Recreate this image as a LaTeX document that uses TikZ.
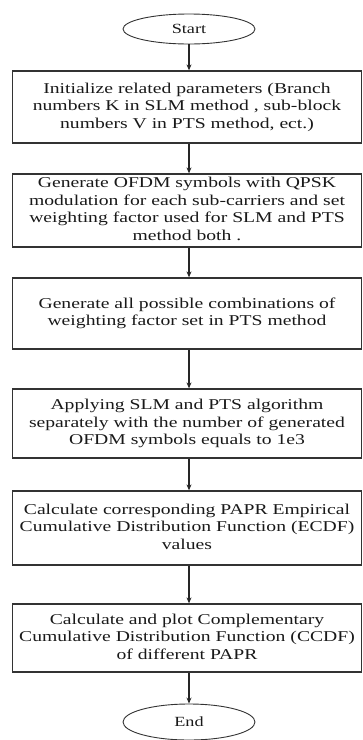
\documentclass[tikz,border=0pt]{standalone}
\usepackage{fontspec}
\usepackage{graphicx}
\setmainfont{Liberation Serif}
\usetikzlibrary{arrows.meta,shapes.geometric}
\newcommand{\widetext}[1]{\scalebox{1.31}[1]{\begin{tabular}{@{}c@{}}#1\end{tabular}}}
\begin{document}
\begin{tikzpicture}[x=1pt,y=-1pt,
  box/.style={draw=black!80, line width=1.3pt, rectangle, minimum width=349pt, inner sep=0pt, align=center, font=\fontsize{15}{17.5}\selectfont, text=black!90},
  term/.style={draw=black!80, line width=0.9pt, ellipse, minimum width=132pt, minimum height=30pt, inner sep=0pt, font=\fontsize{14}{16}\selectfont, text=black!90},
  flow/.style={draw=black!85, line width=1.1pt, -{Stealth[length=6pt,width=5pt]}}]
\useasboundingbox (0,0) rectangle (363,740);
\node[term] (start) at (189,29) {\scalebox{1.3}[1]{Start}};
\node[box, minimum height=72pt] (b1) at (187,107) {\widetext{Initialize related parameters (Branch\\ numbers K in SLM method , sub-block\\ numbers V in PTS method, ect.)}};
\node[box, minimum height=73pt] (b2) at (187,210.5) {\widetext{Generate OFDM symbols with QPSK\\ modulation for each sub-carriers and set\\ weighting factor used for SLM and PTS\\ method both .}};
\node[box, minimum height=71pt] (b3) at (187,313.5) {\widetext{Generate all possible combinations of\\ weighting factor set in PTS method}};
\node[box, minimum height=69pt] (b4) at (187,423.5) {\widetext{Applying SLM and PTS algorithm\\ separately with the number of generated\\ OFDM symbols equals to 1e3}};
\node[box, minimum height=74pt] (b5) at (187,528) {\widetext{Calculate corresponding PAPR Empirical\\ Cumulative Distribution Function (ECDF)\\ values}};
\node[box, minimum height=68pt] (b6) at (187,638) {\widetext{Calculate and plot Complementary\\ Cumulative Distribution Function (CCDF)\\ of different PAPR}};
\node[term, minimum height=36pt] (end) at (189,722) {\scalebox{1.3}[1]{End}};
\draw[flow] (start) -- (start |- b1.north);
\draw[flow] (b1.south -| start) -- (b2.north -| start);
\draw[flow] (b2.south -| start) -- (b3.north -| start);
\draw[flow] (b3.south -| start) -- (b4.north -| start);
\draw[flow] (b4.south -| start) -- (b5.north -| start);
\draw[flow] (b5.south -| start) -- (b6.north -| start);
\draw[flow] (b6.south -| start) -- (end);
\end{tikzpicture}
\end{document}
